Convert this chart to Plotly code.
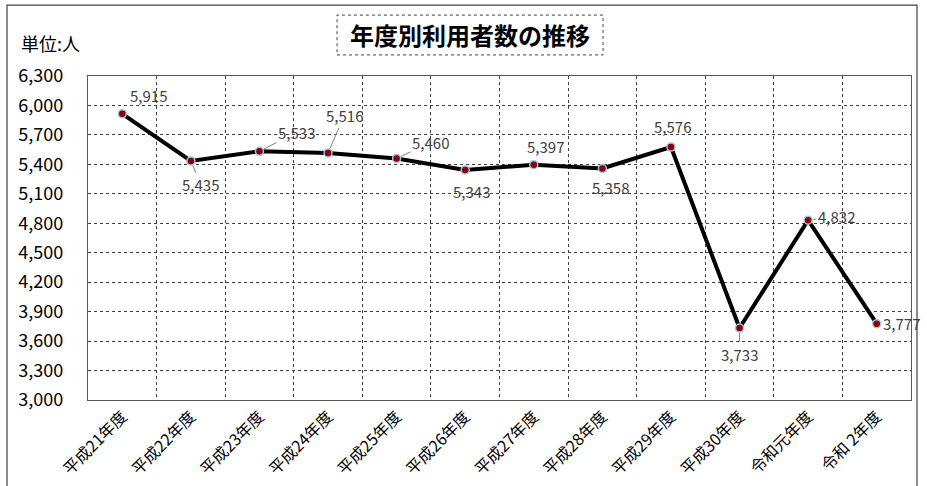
import plotly.graph_objects as go

CATEGORIES = ["平成21年度", "平成22年度", "平成23年度", "平成24年度", "平成25年度", "平成26年度",
              "平成27年度", "平成28年度", "平成29年度", "平成30年度", "令和元年度", "令和 2年度"]
USERS = [5915, 5435, 5533, 5516, 5460, 5343, 5397, 5358, 5576, 3733, 4832, 3777]
Y_TICKS = list(range(3000, 6301, 300))

# label placement (pixel offsets of label from its point) and whether a leader line is drawn
LABEL_DX = [26, 10, 37, 16, 34, 6, 12, 8, 2, 0, 28, 25]
LABEL_DY = [-18, 24, -19, -37, -16, 22, -18, 19, -21, 26, -4, 0]
LEADER = [False, True, True, True, True, False, False, False, False, True, True, False]

FONT = "Noto Sans CJK JP"

fig = go.Figure()
fig.add_trace(go.Scatter(
    x=CATEGORIES, y=USERS, mode="lines+markers",
    line=dict(color="black", width=4),
    marker=dict(size=8, color="#8B0000", line=dict(color="#9DC3E6", width=1.5)),
    hoverinfo="x+y", showlegend=False,
))

for c, v, dx, dy, ld in zip(CATEGORIES, USERS, LABEL_DX, LABEL_DY, LEADER):
    fig.add_annotation(
        x=c, y=v, text=f"{v:,}", showarrow=True, ax=dx, ay=dy,
        arrowhead=0, arrowwidth=1, standoff=5,
        arrowcolor="#7f7f7f" if ld else "rgba(0,0,0,0)",
        font=dict(family=FONT, size=15, color="#404040"),
    )

# title with dashed box
fig.add_annotation(
    xref="paper", yref="paper", x=0.464, y=1.127, text="<b>年度別利用者数の推移</b>",
    showarrow=False, font=dict(family=FONT, size=24, color="black"),
    xanchor="center", yanchor="middle",
)
fig.add_shape(type="rect", xref="paper", yref="paper",
              x0=0.3026, x1=0.6258, y0=1.065, y1=1.188,
              line=dict(color="#404040", width=1, dash="dot"), layer="above")
# unit label
fig.add_annotation(
    xref="paper", yref="paper", x=-0.0838, y=1.102, text="単位:人",
    showarrow=False, font=dict(family=FONT, size=18, color="black"),
    xanchor="left", yanchor="middle",
)
# outer frame of the chart area
fig.add_shape(type="rect", xref="paper", yref="paper",
              x0=-0.0984, x1=1.0073, y0=-0.5, y1=1.219,
              line=dict(color="#404040", width=1.2), layer="below")

fig.update_layout(
    width=927, height=486,
    margin=dict(l=88, r=16, t=76, b=86, autoexpand=False),
    paper_bgcolor="white", plot_bgcolor="white",
    font=dict(family=FONT, color="black"),
    xaxis=dict(
        type="category", tickson="boundaries", showgrid=True,
        gridcolor="#404040", griddash="dot", gridwidth=1,
        showline=True, linecolor="#595959", linewidth=1.2, mirror=True,
        tickangle=-45, tickfont=dict(family=FONT, size=16, color="black"),
        ticks="", zeroline=False, range=[-0.5, len(CATEGORIES) - 0.5],
        automargin=False,
    ),
    yaxis=dict(
        range=[3000, 6300], tickvals=Y_TICKS, tickformat=",",
        showgrid=True, gridcolor="#404040", griddash="dot", gridwidth=1,
        showline=True, linecolor="#595959", linewidth=1.2, mirror=True,
        tickfont=dict(family=FONT, size=18, color="black"),
        ticks="", ticklabelstandoff=20, zeroline=False, automargin=False,
    ),
)

fig.write_html(
    "out.html",
    config={"displayModeBar": False},
    post_script="document.body.style.margin='0px';document.body.style.overflow='hidden';",
)
